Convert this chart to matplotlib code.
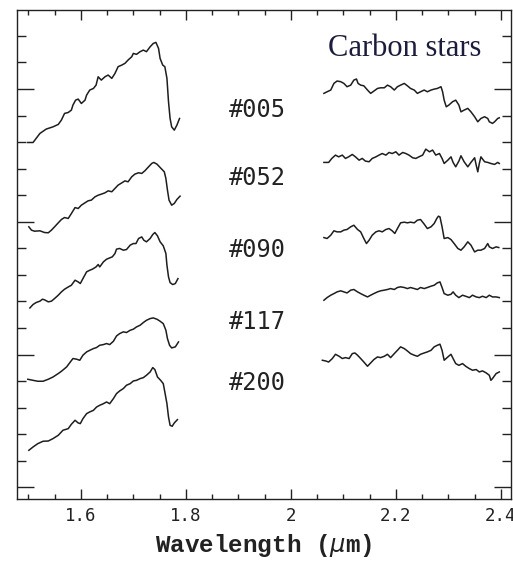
import matplotlib.pyplot as plt
from matplotlib.ticker import MultipleLocator

# Offset spectra of carbon stars, H band (left) and K band (right)
stars = ["#005", "#052", "#090", "#117", "#200"]

# H band
w005_h = [1.499, 1.509, 1.522, 1.534, 1.547, 1.557, 1.563, 1.569, 1.576, 1.582, 1.585, 1.590, 1.595,
          1.601, 1.608, 1.611, 1.617, 1.624, 1.629, 1.633, 1.639, 1.646, 1.652, 1.659, 1.665, 1.671,
          1.678, 1.684, 1.690, 1.697, 1.700, 1.706, 1.713, 1.719, 1.725, 1.732, 1.738, 1.743, 1.748,
          1.751, 1.756, 1.760, 1.764, 1.767, 1.770, 1.773, 1.778, 1.783, 1.788]
f005_h = [2.597, 2.597, 2.665, 2.698, 2.715, 2.733, 2.766, 2.816, 2.823, 2.841, 2.879, 2.916, 2.924,
          2.891, 2.916, 2.954, 2.992, 3.004, 3.029, 3.092, 3.067, 3.092, 3.105, 3.080, 3.117, 3.168,
          3.180, 3.193, 3.218, 3.243, 3.268, 3.261, 3.281, 3.293, 3.281, 3.318, 3.343, 3.351, 3.306,
          3.230, 3.180, 3.168, 3.080, 2.904, 2.778, 2.715, 2.690, 2.728, 2.778]

w052_h = [1.501, 1.506, 1.512, 1.522, 1.531, 1.538, 1.544, 1.550, 1.557, 1.563, 1.569, 1.576, 1.582,
          1.589, 1.595, 1.601, 1.608, 1.614, 1.620, 1.627, 1.633, 1.639, 1.646, 1.652, 1.659, 1.665,
          1.671, 1.678, 1.684, 1.690, 1.697, 1.703, 1.710, 1.716, 1.722, 1.729, 1.735, 1.739, 1.745,
          1.751, 1.759, 1.762, 1.765, 1.768, 1.773, 1.778, 1.783, 1.789]
f052_h = [1.962, 1.937, 1.929, 1.932, 1.919, 1.917, 1.937, 1.962, 1.992, 2.017, 2.032, 2.025, 2.062,
          2.107, 2.100, 2.125, 2.143, 2.158, 2.163, 2.188, 2.200, 2.208, 2.218, 2.233, 2.226, 2.251,
          2.276, 2.293, 2.308, 2.301, 2.339, 2.359, 2.369, 2.364, 2.384, 2.414, 2.439, 2.447, 2.434,
          2.409, 2.376, 2.326, 2.238, 2.163, 2.125, 2.138, 2.168, 2.193]

w090_h = [1.503, 1.509, 1.515, 1.522, 1.527, 1.531, 1.538, 1.544, 1.550, 1.557, 1.563, 1.569, 1.576,
          1.582, 1.589, 1.595, 1.599, 1.604, 1.611, 1.617, 1.622, 1.629, 1.633, 1.636, 1.643, 1.649,
          1.655, 1.660, 1.665, 1.668, 1.674, 1.681, 1.687, 1.694, 1.700, 1.705, 1.710, 1.716, 1.720,
          1.725, 1.732, 1.737, 1.741, 1.746, 1.751, 1.757, 1.762, 1.764, 1.767, 1.770, 1.775, 1.780,
          1.785]
f090_h = [1.351, 1.377, 1.392, 1.402, 1.417, 1.412, 1.397, 1.402, 1.422, 1.447, 1.472, 1.492, 1.509,
          1.522, 1.560, 1.547, 1.535, 1.572, 1.623, 1.635, 1.643, 1.660, 1.678, 1.660, 1.698, 1.718,
          1.728, 1.736, 1.761, 1.794, 1.799, 1.786, 1.791, 1.824, 1.836, 1.836, 1.874, 1.886, 1.861,
          1.849, 1.874, 1.904, 1.919, 1.894, 1.849, 1.819, 1.761, 1.673, 1.585, 1.542, 1.527, 1.535,
          1.572]

w117_h = [1.499, 1.509, 1.518, 1.528, 1.538, 1.547, 1.557, 1.563, 1.573, 1.579, 1.585, 1.592, 1.598,
          1.604, 1.611, 1.617, 1.624, 1.630, 1.636, 1.643, 1.649, 1.655, 1.662, 1.668, 1.674, 1.681,
          1.687, 1.694, 1.700, 1.706, 1.713, 1.719, 1.725, 1.732, 1.738, 1.745, 1.751, 1.757, 1.762,
          1.765, 1.769, 1.773, 1.780, 1.786]
f117_h = [0.814, 0.806, 0.799, 0.799, 0.814, 0.831, 0.857, 0.874, 0.907, 0.939, 0.970, 0.965, 0.957,
          0.995, 1.020, 1.032, 1.045, 1.053, 1.070, 1.075, 1.083, 1.075, 1.100, 1.140, 1.158, 1.171,
          1.166, 1.183, 1.191, 1.208, 1.221, 1.241, 1.258, 1.271, 1.276, 1.266, 1.251, 1.233, 1.183,
          1.120, 1.070, 1.050, 1.058, 1.095]

w200_h = [1.501, 1.509, 1.518, 1.528, 1.538, 1.547, 1.557, 1.566, 1.576, 1.582, 1.589, 1.595, 1.599,
          1.604, 1.611, 1.617, 1.624, 1.630, 1.636, 1.643, 1.649, 1.655, 1.662, 1.668, 1.674, 1.681,
          1.687, 1.694, 1.700, 1.706, 1.713, 1.719, 1.725, 1.732, 1.737, 1.741, 1.746, 1.752, 1.757,
          1.760, 1.764, 1.767, 1.770, 1.774, 1.778, 1.784]
f200_h = [0.279, 0.304, 0.329, 0.347, 0.349, 0.367, 0.392, 0.430, 0.442, 0.475, 0.505, 0.485, 0.480,
          0.517, 0.555, 0.568, 0.580, 0.605, 0.618, 0.630, 0.643, 0.630, 0.668, 0.706, 0.726, 0.744,
          0.769, 0.781, 0.801, 0.806, 0.819, 0.826, 0.844, 0.869, 0.902, 0.887, 0.831, 0.806, 0.781,
          0.718, 0.630, 0.530, 0.467, 0.460, 0.485, 0.510]

# K band
w005_k = [2.063, 2.069, 2.076, 2.082, 2.088, 2.095, 2.101, 2.107, 2.114, 2.120, 2.125, 2.128, 2.133,
          2.139, 2.146, 2.152, 2.158, 2.165, 2.171, 2.178, 2.184, 2.190, 2.197, 2.203, 2.209, 2.216,
          2.222, 2.228, 2.235, 2.241, 2.247, 2.254, 2.260, 2.267, 2.273, 2.279, 2.286, 2.289, 2.292,
          2.296, 2.301, 2.308, 2.314, 2.320, 2.324, 2.330, 2.337, 2.343, 2.350, 2.356, 2.362, 2.369,
          2.375, 2.378, 2.384, 2.388, 2.394, 2.397]
f005_k = [2.967, 2.979, 2.992, 3.042, 3.060, 3.055, 3.042, 3.017, 3.029, 3.067, 3.075, 3.042, 3.029,
          3.024, 2.992, 2.967, 2.984, 3.004, 3.009, 3.009, 3.029, 3.017, 2.992, 3.017, 3.029, 3.042,
          3.024, 3.004, 2.992, 2.967, 2.979, 2.992, 2.979, 2.992, 2.999, 3.004, 3.017, 2.979, 2.916,
          2.866, 2.879, 2.904, 2.916, 2.879, 2.828, 2.841, 2.854, 2.828, 2.791, 2.753, 2.778, 2.791,
          2.778, 2.753, 2.741, 2.753, 2.778, 2.783]

w052_k = [2.063, 2.072, 2.078, 2.085, 2.091, 2.098, 2.104, 2.110, 2.117, 2.123, 2.130, 2.136, 2.142,
          2.149, 2.155, 2.162, 2.168, 2.174, 2.181, 2.187, 2.193, 2.200, 2.206, 2.213, 2.219, 2.225,
          2.232, 2.238, 2.244, 2.251, 2.257, 2.264, 2.270, 2.276, 2.283, 2.288, 2.292, 2.299, 2.305,
          2.309, 2.314, 2.320, 2.324, 2.330, 2.337, 2.343, 2.350, 2.353, 2.356, 2.359, 2.362, 2.369,
          2.375, 2.381, 2.388, 2.394, 2.397]
f052_k = [2.447, 2.447, 2.477, 2.502, 2.489, 2.502, 2.477, 2.489, 2.507, 2.489, 2.464, 2.477, 2.457,
          2.452, 2.477, 2.489, 2.502, 2.514, 2.502, 2.522, 2.514, 2.527, 2.502, 2.522, 2.514, 2.502,
          2.482, 2.477, 2.489, 2.502, 2.547, 2.527, 2.540, 2.502, 2.514, 2.477, 2.439, 2.464, 2.489,
          2.447, 2.414, 2.457, 2.497, 2.452, 2.414, 2.447, 2.482, 2.427, 2.376, 2.439, 2.489, 2.452,
          2.447, 2.439, 2.432, 2.447, 2.439]

w090_k = [2.063, 2.069, 2.076, 2.082, 2.088, 2.095, 2.101, 2.107, 2.114, 2.120, 2.127, 2.133, 2.139,
          2.144, 2.149, 2.155, 2.162, 2.168, 2.174, 2.181, 2.187, 2.193, 2.198, 2.203, 2.209, 2.216,
          2.222, 2.228, 2.235, 2.241, 2.247, 2.254, 2.260, 2.267, 2.273, 2.278, 2.281, 2.284, 2.288,
          2.292, 2.299, 2.305, 2.311, 2.318, 2.324, 2.330, 2.337, 2.343, 2.350, 2.356, 2.362, 2.369,
          2.375, 2.378, 2.384, 2.391, 2.396]
f090_k = [1.881, 1.874, 1.899, 1.932, 1.924, 1.924, 1.937, 1.942, 1.962, 1.974, 1.942, 1.924, 1.874,
          1.836, 1.861, 1.899, 1.924, 1.932, 1.924, 1.942, 1.949, 1.932, 1.912, 1.949, 1.992, 1.997,
          1.992, 1.997, 1.992, 2.012, 2.017, 1.982, 1.949, 1.962, 1.987, 2.025, 2.042, 2.037, 1.962,
          1.874, 1.881, 1.866, 1.836, 1.799, 1.786, 1.811, 1.849, 1.824, 1.773, 1.786, 1.786, 1.799,
          1.836, 1.811, 1.799, 1.811, 1.806]

w117_k = [2.063, 2.069, 2.076, 2.082, 2.088, 2.095, 2.101, 2.107, 2.114, 2.120, 2.127, 2.133, 2.139,
          2.146, 2.152, 2.158, 2.165, 2.171, 2.178, 2.184, 2.190, 2.197, 2.203, 2.209, 2.216, 2.222,
          2.228, 2.235, 2.241, 2.247, 2.254, 2.260, 2.267, 2.273, 2.279, 2.284, 2.288, 2.292, 2.299,
          2.305, 2.309, 2.314, 2.320, 2.327, 2.333, 2.340, 2.346, 2.353, 2.359, 2.365, 2.372, 2.378,
          2.384, 2.391, 2.397]
f117_k = [1.409, 1.429, 1.447, 1.459, 1.472, 1.480, 1.472, 1.464, 1.485, 1.490, 1.472, 1.459, 1.447,
          1.434, 1.447, 1.459, 1.472, 1.480, 1.485, 1.490, 1.497, 1.490, 1.505, 1.510, 1.505, 1.497,
          1.505, 1.497, 1.490, 1.505, 1.497, 1.505, 1.515, 1.522, 1.540, 1.547, 1.505, 1.459, 1.447,
          1.454, 1.472, 1.447, 1.429, 1.447, 1.439, 1.429, 1.447, 1.434, 1.429, 1.439, 1.429, 1.447,
          1.434, 1.434, 1.429]

w200_k = [2.060, 2.066, 2.072, 2.079, 2.085, 2.092, 2.098, 2.104, 2.111, 2.117, 2.122, 2.127, 2.133,
          2.139, 2.146, 2.152, 2.158, 2.165, 2.171, 2.178, 2.184, 2.190, 2.197, 2.203, 2.209, 2.216,
          2.222, 2.228, 2.235, 2.241, 2.247, 2.254, 2.260, 2.267, 2.273, 2.279, 2.284, 2.288, 2.292,
          2.299, 2.305, 2.309, 2.314, 2.320, 2.327, 2.333, 2.340, 2.346, 2.353, 2.359, 2.365, 2.372,
          2.378, 2.381, 2.384, 2.391, 2.397]
f200_k = [0.957, 0.952, 0.944, 0.970, 1.002, 0.987, 0.970, 0.977, 0.970, 1.007, 1.012, 0.995, 0.970,
          0.944, 0.912, 0.937, 0.962, 0.982, 0.977, 0.987, 1.002, 0.977, 1.007, 1.032, 1.058, 1.045,
          1.027, 1.007, 0.995, 0.987, 1.002, 1.012, 1.020, 1.032, 1.058, 1.070, 1.078, 1.032, 0.957,
          0.982, 1.002, 0.970, 0.932, 0.919, 0.932, 0.912, 0.894, 0.882, 0.887, 0.869, 0.877, 0.862,
          0.844, 0.806, 0.819, 0.857, 0.869]

# where each star's name sits
label_x = 1.936
label_y = [2.841, 2.329, 1.786, 1.243, 0.784]

spectra = [
    (w005_h, f005_h, w005_k, f005_k),
    (w052_h, f052_h, w052_k, f052_k),
    (w090_h, f090_h, w090_k, f090_k),
    (w117_h, f117_h, w117_k, f117_k),
    (w200_h, f200_h, w200_k, f200_k),
]

fig = plt.figure(figsize=(5.13, 5.64), dpi=100)
ax = fig.add_axes([0.0331, 0.1152, 0.9627, 0.8671])

line_color = "#1e1e1e"
for (wh, fh, wk, fk), name, ly in zip(spectra, stars, label_y):
    ax.plot(wh, fh, color=line_color, lw=1.1)
    ax.plot(wk, fk, color=line_color, lw=1.1)
    ax.text(label_x, ly, name, ha="center", va="center", fontsize=17,
            family="DejaVu Sans Mono", color="#222222")

ax.text(2.217, 3.308, "Carbon stars", ha="center", va="center", fontsize=22,
        family="Liberation Serif", color="#1c1c3c")

ax.set_xlim(1.4784, 2.419)
ax.set_ylim(-0.088, 3.595)

ax.xaxis.set_minor_locator(MultipleLocator(0.05))
ax.yaxis.set_major_locator(MultipleLocator(1.0))
ax.yaxis.set_minor_locator(MultipleLocator(0.2))
ax.set_xticks([1.6, 1.8, 2.0, 2.2, 2.4])
ax.set_xticklabels(["1.6", "1.8", "2", "2.2", "2.4"])

ax.tick_params(axis="both", which="both", direction="in", top=True, right=True,
               width=1.0, color="#222222")
ax.tick_params(axis="x", which="major", length=7.5, pad=6, labelsize=12.5,
               labelcolor="#222222")
ax.tick_params(axis="x", which="minor", length=3.8)
ax.tick_params(axis="y", which="major", length=12.5, labelleft=False)
ax.tick_params(axis="y", which="minor", length=6.5)
for lbl in ax.get_xticklabels():
    lbl.set_family("DejaVu Sans Mono")

for sp in ax.spines.values():
    sp.set_linewidth(1.0)
    sp.set_color("#222222")

ax.set_xlabel(r"Wavelength ($\mu$m)", fontsize=17.5, family="Liberation Mono",
              fontweight="bold", color="#222222", labelpad=5)

fig.savefig("out.png", dpi=100)
